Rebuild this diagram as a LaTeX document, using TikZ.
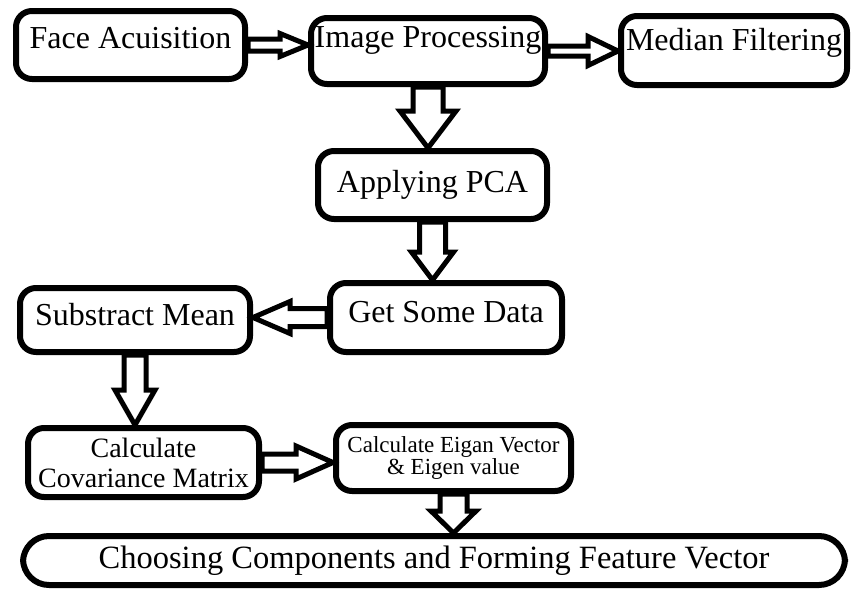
\documentclass[tikz,border=0pt]{standalone}
\usepackage{fontspec}
\setmainfont{Liberation Serif}
\usetikzlibrary{calc}
% hollow block arrow: tail, tip, shaft half width, head half width, head length
\newcommand{\blockarr}[5]{%
  \draw[blockline] let \p1=#1, \p2=#2,
      \n1={atan2(\y2-\y1,\x2-\x1)}, \n2={veclen(\x2-\x1,\y2-\y1)} in
    [shift={(\p1)}, rotate=\n1]
    (0pt,-#3) -- ({\n2-#5},-#3) -- ({\n2-#5},-#4) -- (\n2,0pt)
    -- ({\n2-#5},#4) -- ({\n2-#5},#3) -- (0pt,#3) -- cycle;
}

\begin{document}
\begin{tikzpicture}[x=1pt,y=-1pt,
    stepbox/.style={draw, line width=6pt, rounded corners=16pt, inner sep=0pt,
      font=\fontsize{32}{34}\selectfont},
    blockline/.style={draw, line width=5pt, fill=white, line join=miter}]
  \useasboundingbox (0,0) rectangle (852,590);
  % top row
  \node[stepbox, minimum width=229pt, text height=37pt, text depth=31pt] (face) at (130.5,45) {Face Acuisition};
  \node[stepbox, minimum width=234pt, text height=29pt, text depth=37pt] (imgproc) at (428,51) {Image Processing};
  \node[stepbox, minimum width=226pt, text height=34pt, text depth=35pt] (median) at (734,50.5) {Median Filtering};
  % PCA steps
  \node[stepbox, minimum width=229pt, text height=41pt, text depth=27pt] (pca) at (432.5,185) {Applying PCA};
  \node[stepbox, minimum width=232pt, text height=39pt, text depth=30pt] (getdata) at (446,317.5) {Get Some Data};
  \node[stepbox, minimum width=230pt, text height=37pt, text depth=27pt] (submean) at (135,320) {Substract Mean};
  \node[stepbox, minimum width=231pt, minimum height=69pt, align=center,
    font=\fontsize{28}{30}\selectfont] (covar) at (143.5,462.5) {Calculate\\Covariance Matrix};
  \node[stepbox, minimum width=235pt, minimum height=66pt, align=center,
    font=\fontsize{23}{20}\selectfont] (eigen) at (453.5,458) {Calculate Eigan Vector\\\& Eigen value};
  \node[stepbox, rounded corners=26pt, minimum width=822pt, minimum height=49pt,
    font=\fontsize{32.5}{34}\selectfont] (choose) at (434,560.5) {Choosing Components and Forming Feature Vector};
  % arrows
  \blockarr{(face.east)}{(face.east -| imgproc.west)}{6pt}{11.5pt}{28pt}
  \blockarr{(imgproc.east)}{(imgproc.east -| median.west)}{5pt}{14.5pt}{30pt}
  \blockarr{(imgproc.south)}{(imgproc.south |- pca.north)}{15pt}{28pt}{37pt}
  \blockarr{(pca.south)}{(pca.south |- getdata.north)}{13pt}{21pt}{28pt}
  \blockarr{(getdata.west)}{(getdata.west -| submean.east)}{9pt}{16pt}{37pt}
  \blockarr{(submean.south)}{(submean.south |- covar.north)}{11pt}{20pt}{35pt}
  \blockarr{(covar.east)}{(covar.east -| eigen.west)}{8.5pt}{16.5pt}{37pt}
  \blockarr{(eigen.south)}{(eigen.south |- choose.north)}{13.5pt}{22.5pt}{22pt}
\end{tikzpicture}
\end{document}
